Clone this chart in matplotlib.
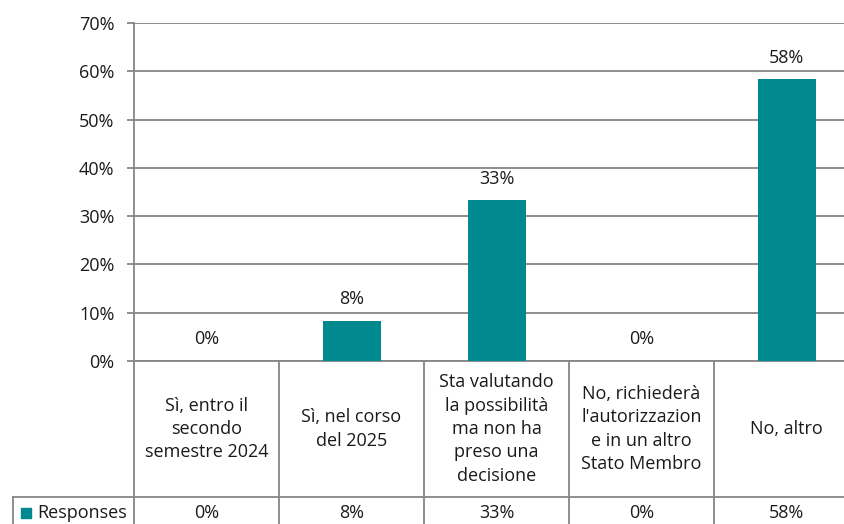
import matplotlib

matplotlib.use("Agg")
import matplotlib.pyplot as plt
from matplotlib.patches import Rectangle

categories = [
    "Sì, entro il\nsecondo\nsemestre 2024",
    "Sì, nel corso\ndel 2025",
    "Sta valutando\nla possibilità\nma non ha\npreso una\ndecisione",
    "No, richiederà\nl'autorizzazion\ne in un altro\nStato Membro",
    "No, altro",
]
responses = [0.0, 8.3, 33.3, 0.0, 58.3]
value_labels = ["0%", "8%", "33%", "0%", "58%"]
series_name = "Responses"
yticks = [0, 10, 20, 30, 40, 50, 60, 70]

BAR = "#00898f"
GRID = "#868686"
TXT = "#1a1a1a"
FS = 13

plt.rcParams["font.family"] = ["Open Sans", "DejaVu Sans"]

W, H = 845, 524
fig = plt.figure(figsize=(W / 100, H / 100), dpi=100)
x0, y_top, y_zero, col_w = 134, 23, 361, 145
ax = fig.add_axes([x0 / W, (H - y_zero) / H, 5 * col_w / W, (y_zero - y_top) / H])

xs = list(range(len(categories)))
ax.bar(xs, responses, width=0.4, color=BAR, zorder=3)
for x, v, lab in zip(xs, responses, value_labels):
    ax.annotate(lab, (x, v), xytext=(0, 9), textcoords="offset points",
                ha="center", va="bottom", fontsize=FS, color=TXT)

ax.set_xlim(-0.5, len(categories) - 0.5)
ax.set_ylim(0, 70)
ax.set_yticks(yticks)
ax.set_yticklabels([f"{t}%" for t in yticks], fontsize=FS, color=TXT)
ax.yaxis.grid(True, color=GRID, lw=1.3, zorder=0)
ax.set_xticks([])
ax.tick_params(axis="y", length=5, width=1.3, color=GRID, pad=9)
for side in ["top", "right", "bottom"]:
    ax.spines[side].set_visible(False)
ax.spines["left"].set_color(GRID)
ax.spines["left"].set_linewidth(1.3)

# data table below the plot
tr = ax.get_xaxis_transform()
row1 = -(497 - y_zero) / (y_zero - y_top)
row2 = -(540 - y_zero) / (y_zero - y_top)
n = len(categories)
lkw = dict(color=GRID, lw=1.3, transform=tr, clip_on=False)
ax.plot([-0.5, n - 0.5], [0, 0], **lkw)
leg_left = -0.5 - (x0 - 13) / col_w
ax.plot([leg_left, n - 0.5], [row1, row1], **lkw)
for i in range(n + 1):
    ax.plot([i - 0.5, i - 0.5], [0, row2], **lkw)
ax.plot([leg_left, leg_left], [row1, row2], **lkw)

mid1 = row1 / 2
mid2 = -(513 - y_zero) / (y_zero - y_top)
for x, cat, lab in zip(xs, categories, value_labels):
    ax.text(x, mid1, cat, transform=tr, ha="center", va="center",
            fontsize=FS, color=TXT, linespacing=1.38, clip_on=False)
    ax.text(x, mid2, lab, transform=tr, ha="center", va="center",
            fontsize=FS, color=TXT, clip_on=False)

fig.patches.append(Rectangle((21 / W, (H - 518) / H), 10 / W, 10 / H,
                             transform=fig.transFigure, color=BAR))
fig.text(37 / W, (H - 513) / H, series_name, ha="left", va="center",
         fontsize=FS, color=TXT)

fig.savefig("out.png", dpi=100)
